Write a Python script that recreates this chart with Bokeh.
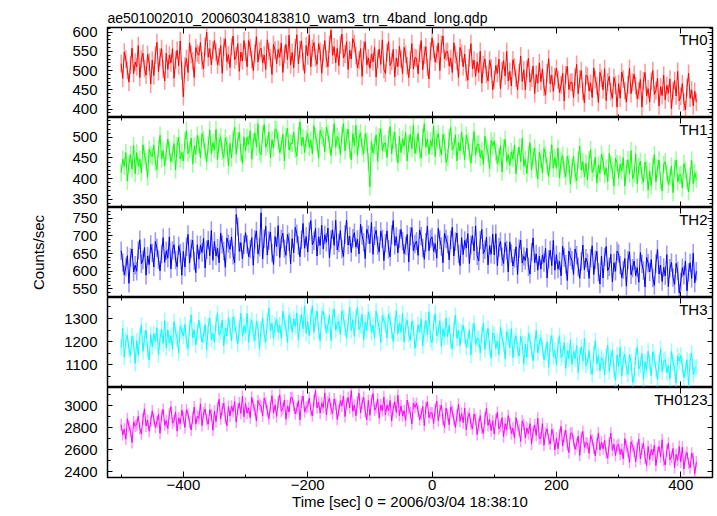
from bokeh.plotting import figure
from bokeh.layouts import column
from bokeh.models import Range1d, LinearAxis, SingleIntervalTicker, Label, CustomLabelingPolicy
from bokeh.embed import file_html
from bokeh.resources import INLINE

# time bins (s), 0 = 2006/03/04 18:38:10, 2.5 s bins from -500 to 425
time_sec = [k * 2.5 for k in range(-200, 171)]

th0 = [518, 480, 548, 530, 500, 470, 515, 558, 492, 522,
       510, 565, 482, 530, 545, 505, 488, 542, 522, 465,
       527, 487, 540, 573, 497, 535, 557, 503, 473, 545,
       503, 540, 520, 557, 480, 527, 553, 513, 577, 500,
       432, 512, 532, 495, 572, 542, 525, 482, 560, 545,
       540, 573, 525, 505, 563, 600, 535, 557, 515, 553,
       578, 548, 515, 535, 565, 493, 561, 583, 523, 541,
       508, 562, 590, 528, 538, 570, 498, 548, 525, 578,
       548, 510, 578, 560, 530, 500, 545, 588, 522, 552,
       558, 520, 540, 503, 580, 550, 533, 490, 568, 553,
       518, 555, 535, 572, 495, 542, 568, 528, 592, 515,
       547, 507, 560, 593, 517, 555, 577, 523, 493, 565,
       538, 593, 510, 558, 573, 533, 516, 570, 550, 493,
       545, 578, 530, 510, 568, 605, 540, 562, 520, 558,
       513, 567, 595, 533, 543, 575, 503, 553, 530, 583,
       570, 540, 507, 527, 557, 485, 553, 575, 515, 533,
       506, 543, 523, 560, 483, 530, 556, 516, 580, 503,
       493, 547, 575, 513, 523, 555, 483, 533, 510, 563,
       530, 492, 560, 542, 512, 482, 527, 570, 504, 534,
       532, 492, 545, 578, 502, 540, 562, 508, 478, 550,
       585, 555, 522, 542, 572, 500, 568, 590, 530, 548,
       550, 512, 532, 495, 572, 542, 525, 482, 560, 545,
       510, 543, 495, 475, 533, 570, 505, 527, 485, 523,
       495, 550, 467, 515, 530, 490, 473, 527, 507, 450,
       476, 513, 493, 530, 453, 500, 526, 486, 550, 473,
       498, 460, 528, 510, 480, 450, 495, 538, 472, 502,
       450, 504, 532, 470, 480, 512, 440, 490, 467, 520,
       471, 504, 456, 436, 494, 531, 466, 488, 446, 484,
       506, 476, 443, 463, 493, 421, 489, 511, 451, 469,
       470, 430, 483, 516, 440, 478, 500, 446, 416, 488,
       485, 447, 467, 430, 507, 477, 460, 417, 495, 480,
       450, 505, 422, 470, 485, 445, 428, 482, 462, 405,
       466, 428, 496, 478, 448, 418, 463, 506, 440, 470,
       490, 460, 427, 447, 477, 405, 473, 495, 435, 453,
       418, 472, 500, 438, 448, 480, 408, 458, 435, 488,
       424, 461, 441, 478, 401, 448, 474, 434, 498, 421,
       433, 466, 418, 398, 456, 493, 428, 450, 408, 446,
       418]

th1 = [414, 447, 430, 463, 394, 436, 458, 423, 480, 412,
       463, 430, 447, 414, 482, 456, 441, 403, 471, 458,
       453, 481, 439, 422, 472, 505, 448, 468, 431, 464,
       496, 469, 441, 458, 485, 421, 480, 500, 447, 463,
       443, 492, 516, 461, 470, 498, 435, 479, 459, 505,
       483, 450, 509, 494, 467, 441, 480, 518, 461, 487,
       470, 519, 446, 488, 501, 466, 450, 499, 481, 431,
       485, 450, 496, 525, 459, 492, 512, 463, 437, 501,
       467, 500, 483, 516, 447, 489, 511, 476, 533, 465,
       458, 507, 531, 476, 485, 513, 450, 494, 474, 520,
       518, 491, 463, 480, 507, 443, 502, 522, 469, 485,
       485, 513, 471, 454, 504, 537, 480, 500, 463, 496,
       509, 476, 493, 460, 528, 502, 487, 449, 517, 504,
       498, 465, 524, 509, 482, 456, 495, 533, 476, 502,
       493, 458, 504, 533, 467, 500, 520, 471, 445, 509,
       480, 529, 456, 498, 511, 476, 460, 509, 491, 441,
       380, 490, 462, 479, 506, 442, 501, 521, 468, 484,
       486, 451, 497, 526, 460, 493, 513, 464, 438, 502,
       463, 496, 479, 512, 443, 485, 507, 472, 529, 461,
       481, 509, 467, 450, 500, 533, 476, 496, 459, 492,
       478, 527, 454, 496, 509, 474, 458, 507, 489, 439,
       451, 500, 524, 469, 478, 506, 443, 487, 467, 513,
       479, 446, 505, 490, 463, 437, 476, 514, 457, 483,
       484, 451, 468, 435, 503, 477, 462, 424, 492, 479,
       491, 464, 436, 453, 480, 416, 475, 495, 442, 458,
       432, 465, 448, 481, 412, 454, 476, 441, 498, 430,
       447, 412, 458, 487, 421, 454, 474, 425, 399, 463,
       447, 414, 473, 458, 431, 405, 444, 482, 425, 451,
       425, 474, 401, 443, 456, 421, 405, 454, 436, 386,
       426, 454, 412, 395, 445, 478, 421, 441, 404, 437,
       397, 446, 470, 415, 424, 452, 389, 433, 413, 459,
       442, 409, 426, 393, 461, 435, 420, 382, 450, 437,
       402, 435, 418, 451, 382, 424, 446, 411, 468, 400,
       411, 460, 387, 429, 442, 407, 391, 440, 422, 372,
       418, 383, 429, 458, 392, 425, 445, 396, 370, 434,
       441, 414, 386, 403, 430, 366, 425, 445, 392, 408,
       410, 377, 436, 421, 394, 368, 407, 445, 388, 414,
       398]

th2 = [658, 625, 590, 612, 644, 566, 639, 663, 598, 617,
       600, 659, 689, 621, 632, 667, 589, 643, 619, 676,
       652, 612, 684, 666, 633, 601, 649, 695, 625, 658,
       637, 697, 607, 659, 675, 632, 613, 672, 651, 589,
       656, 612, 669, 704, 623, 664, 688, 629, 596, 675,
       634, 674, 653, 693, 609, 661, 688, 644, 715, 631,
       684, 643, 665, 624, 708, 676, 657, 611, 694, 678,
       662, 697, 645, 624, 760, 726, 656, 681, 635, 675,
       709, 676, 641, 663, 695, 617, 690, 714, 649, 668,
       765, 635, 692, 727, 646, 687, 711, 652, 619, 698,
       669, 729, 639, 691, 707, 664, 645, 704, 683, 621,
       692, 652, 724, 706, 673, 641, 689, 735, 665, 698,
       654, 713, 743, 675, 686, 721, 643, 697, 673, 730,
       663, 703, 682, 722, 638, 690, 717, 673, 744, 660,
       680, 715, 663, 642, 704, 744, 674, 699, 653, 693,
       709, 668, 690, 649, 733, 701, 682, 636, 719, 703,
       678, 738, 648, 700, 716, 673, 654, 713, 692, 630,
       679, 714, 662, 641, 703, 743, 673, 698, 652, 692,
       718, 685, 650, 672, 704, 626, 699, 723, 658, 677,
       685, 645, 717, 699, 666, 634, 682, 728, 658, 691,
       697, 656, 678, 637, 721, 689, 670, 624, 707, 691,
       676, 632, 689, 724, 643, 684, 708, 649, 616, 695,
       647, 687, 666, 706, 622, 674, 701, 657, 728, 644,
       629, 688, 718, 650, 661, 696, 618, 672, 648, 705,
       646, 706, 616, 668, 684, 641, 622, 681, 660, 598,
       683, 650, 615, 637, 669, 591, 664, 688, 623, 642,
       630, 665, 613, 592, 654, 694, 624, 649, 603, 643,
       606, 646, 625, 665, 581, 633, 660, 616, 687, 603,
       647, 606, 628, 587, 671, 639, 620, 574, 657, 641,
       631, 591, 663, 645, 612, 580, 628, 674, 604, 637,
       624, 580, 637, 672, 591, 632, 656, 597, 564, 643,
       581, 640, 670, 602, 613, 648, 570, 624, 600, 657,
       650, 617, 582, 604, 636, 558, 631, 655, 590, 609,
       629, 588, 610, 569, 653, 621, 602, 556, 639, 623,
       598, 633, 581, 560, 622, 662, 592, 617, 571, 611,
       587, 647, 557, 609, 625, 582, 563, 622, 601, 539,
       570, 610, 589, 629, 545, 597, 624, 580, 651, 567,
       600]

th3 = [1175, 1258, 1133, 1205, 1228, 1167, 1141, 1224, 1194, 1106,
       1204, 1143, 1223, 1272, 1158, 1215, 1249, 1166, 1120, 1230,
       1177, 1234, 1203, 1260, 1143, 1215, 1253, 1192, 1291, 1173,
       1252, 1195, 1226, 1169, 1287, 1241, 1214, 1150, 1268, 1245,
       1224, 1274, 1202, 1171, 1259, 1316, 1217, 1251, 1186, 1243,
       1293, 1248, 1198, 1229, 1274, 1164, 1267, 1301, 1210, 1236,
       1198, 1281, 1323, 1228, 1243, 1293, 1182, 1258, 1224, 1304,
       1261, 1204, 1307, 1280, 1235, 1189, 1258, 1322, 1223, 1269,
       1239, 1322, 1197, 1269, 1292, 1231, 1205, 1288, 1258, 1170,
       1253, 1303, 1231, 1200, 1288, 1345, 1246, 1280, 1215, 1272,
       1298, 1241, 1272, 1215, 1333, 1287, 1260, 1196, 1314, 1291,
       1241, 1298, 1267, 1324, 1207, 1279, 1317, 1256, 1355, 1237,
       1287, 1226, 1306, 1355, 1241, 1298, 1332, 1249, 1203, 1313,
       1333, 1288, 1238, 1269, 1314, 1204, 1307, 1341, 1250, 1276,
       1287, 1230, 1333, 1306, 1261, 1215, 1284, 1348, 1249, 1295,
       1223, 1306, 1348, 1253, 1268, 1318, 1207, 1283, 1249, 1329,
       1298, 1241, 1272, 1215, 1333, 1287, 1260, 1196, 1314, 1291,
       1273, 1216, 1319, 1292, 1247, 1201, 1270, 1334, 1235, 1281,
       1240, 1323, 1198, 1270, 1293, 1232, 1206, 1289, 1259, 1171,
       1216, 1273, 1242, 1299, 1182, 1254, 1292, 1231, 1330, 1212,
       1196, 1279, 1321, 1226, 1241, 1291, 1180, 1256, 1222, 1302,
       1222, 1272, 1200, 1169, 1257, 1314, 1215, 1249, 1184, 1241,
       1271, 1226, 1176, 1207, 1252, 1142, 1245, 1279, 1188, 1214,
       1212, 1151, 1231, 1280, 1166, 1223, 1257, 1174, 1128, 1238,
       1228, 1171, 1202, 1145, 1263, 1217, 1190, 1126, 1244, 1221,
       1173, 1256, 1131, 1203, 1226, 1165, 1139, 1222, 1192, 1104,
       1189, 1132, 1235, 1208, 1163, 1117, 1186, 1250, 1151, 1197,
       1218, 1173, 1123, 1154, 1199, 1089, 1192, 1226, 1135, 1161,
       1101, 1184, 1226, 1131, 1146, 1196, 1085, 1161, 1127, 1207,
       1101, 1158, 1127, 1184, 1067, 1139, 1177, 1116, 1215, 1097,
       1112, 1162, 1090, 1059, 1147, 1204, 1105, 1139, 1074, 1131,
       1117, 1056, 1136, 1185, 1071, 1128, 1162, 1079, 1033, 1143,
       1093, 1176, 1051, 1123, 1146, 1085, 1059, 1142, 1112, 1024,
       1053, 1136, 1178, 1083, 1098, 1148, 1037, 1113, 1079, 1159,
       1109, 1052, 1155, 1128, 1083, 1037, 1106, 1170, 1071, 1117,
       1123, 1066, 1097, 1040, 1158, 1112, 1085, 1021, 1139, 1116,
       1141, 1096, 1046, 1077, 1122, 1012, 1115, 1149, 1058, 1084,
       1090]

th0123 = [2828, 2738, 2786, 2696, 2882, 2810, 2768, 2666, 2852, 2816,
          2828, 2906, 2792, 2744, 2882, 2972, 2816, 2870, 2768, 2858,
          2954, 2882, 2804, 2852, 2924, 2750, 2912, 2966, 2822, 2864,
          2794, 2926, 2992, 2842, 2866, 2944, 2770, 2890, 2836, 2962,
          2893, 2803, 2965, 2923, 2851, 2779, 2887, 2989, 2833, 2905,
          2886, 3018, 2820, 2934, 2970, 2874, 2832, 2964, 2916, 2778,
          2951, 2855, 2981, 3059, 2879, 2969, 3023, 2891, 2819, 2993,
          2906, 2996, 2948, 3038, 2852, 2966, 3026, 2930, 3086, 2900,
          3023, 2933, 2981, 2891, 3077, 3005, 2963, 2861, 3047, 3011,
          2996, 2906, 3068, 3026, 2954, 2882, 2990, 3092, 2936, 3008,
          2902, 3034, 3100, 2950, 2974, 3052, 2878, 2998, 2944, 3070,
          3076, 3004, 2926, 2974, 3046, 2872, 3034, 3088, 2944, 2986,
          2993, 3071, 2957, 2909, 3047, 3137, 2981, 3035, 2933, 3023,
          2984, 3116, 2918, 3032, 3068, 2972, 2930, 3062, 3014, 2876,
          2956, 3046, 2998, 3088, 2902, 3016, 3076, 2980, 3136, 2950,
          3006, 2910, 3036, 3114, 2934, 3024, 3078, 2946, 2874, 3048,
          2912, 3044, 3110, 2960, 2984, 3062, 2888, 3008, 2954, 3080,
          2916, 3006, 2958, 3048, 2862, 2976, 3036, 2940, 3096, 2910,
          2998, 2908, 2956, 2866, 3052, 2980, 2938, 2836, 3022, 2986,
          3024, 2952, 2874, 2922, 2994, 2820, 2982, 3036, 2892, 2934,
          2936, 2840, 2966, 3044, 2864, 2954, 3008, 2876, 2804, 2978,
          2918, 2828, 2990, 2948, 2876, 2804, 2912, 3014, 2858, 2930,
          2846, 2978, 2780, 2894, 2930, 2834, 2792, 2924, 2876, 2738,
          2833, 2911, 2797, 2749, 2887, 2977, 2821, 2875, 2773, 2863,
          2742, 2874, 2940, 2790, 2814, 2892, 2718, 2838, 2784, 2910,
          2838, 2748, 2796, 2706, 2892, 2820, 2778, 2676, 2862, 2826,
          2706, 2796, 2748, 2838, 2652, 2766, 2826, 2730, 2886, 2700,
          2706, 2838, 2640, 2754, 2790, 2694, 2652, 2784, 2736, 2598,
          2706, 2610, 2736, 2814, 2634, 2724, 2778, 2646, 2574, 2748,
          2754, 2682, 2604, 2652, 2724, 2550, 2712, 2766, 2622, 2664,
          2658, 2568, 2730, 2688, 2616, 2544, 2652, 2754, 2598, 2670,
          2608, 2686, 2572, 2524, 2662, 2752, 2596, 2650, 2548, 2638,
          2648, 2558, 2606, 2516, 2702, 2630, 2588, 2486, 2672, 2636,
          2588, 2492, 2618, 2696, 2516, 2606, 2660, 2528, 2456, 2630,
          2511, 2601, 2553, 2643, 2457, 2571, 2631, 2535, 2691, 2505,
          2462, 2594, 2660, 2510, 2534, 2612, 2438, 2558, 2504, 2630,
          2491, 2623, 2425, 2539, 2575, 2479, 2437, 2569, 2521, 2383,
          2490]

# typical 1-sigma error per bin (counts/sec)
err_th0 = 23
err_th1 = 21
err_th2 = 26
err_th3 = 35
err_th0123 = 54

names = ["TH0", "TH1", "TH2", "TH3", "TH0123"]
series = [th0, th1, th2, th3, th0123]
errors = [err_th0, err_th1, err_th2, err_th3, err_th0123]
colors = ["#ff0000", "#00ff00", "#0000ff", "#00ffff", "#ff00ff"]
y_ranges = [(378, 612), (330, 548), (526, 780), (1002, 1391), (2348, 3166)]
y_steps = [(50, 5), (50, 5), (50, 5), (100, 2), (200, 2)]

title_text = "ae501002010_20060304183810_wam3_trn_4band_long.qdp"
x_label = "Time [sec] 0 = 2006/03/04 18:38:10"
y_label = "Counts/sec"

FONT = "Liberation Sans"
x_range = Range1d(-522, 451)

HIDE = "try { for (const i of indices) { indices.unset(i) } } catch (e) {} return indices"


def style_axis(ax, show_labels, tin, tmin):
    ax.axis_line_color = None
    ax.major_tick_in = tin
    ax.major_tick_out = 0
    ax.minor_tick_in = tmin
    ax.minor_tick_out = 0
    ax.major_tick_line_color = "black"
    ax.minor_tick_line_color = "black"
    ax.major_tick_line_width = 1
    ax.minor_tick_line_width = 1
    if show_labels:
        ax.major_label_text_font = FONT
        ax.major_label_text_font_size = "15px"
        ax.major_label_text_color = "black"
    else:
        ax.major_label_policy = CustomLabelingPolicy(code=HIDE)
        ax.major_label_text_font_size = "0px"
        ax.major_label_standoff = 0


figs = []
for i in range(5):
    first = i == 0
    last = i == 4
    p = figure(frame_width=605, frame_height=90, x_range=x_range,
               y_range=Range1d(*y_ranges[i]), output_backend="svg",
               toolbar_location=None, tools="",
               min_border_left=107, min_border_right=3,
               min_border_top=27 if first else 0,
               min_border_bottom=39 if last else 0)
    p.grid.visible = False
    p.background_fill_color = "white"
    p.border_fill_color = "white"
    p.outline_line_color = "black"
    p.outline_line_width = 1.5

    yint, yminor = y_steps[i]
    yl = p.yaxis[0]
    yl.ticker = SingleIntervalTicker(interval=yint, num_minor_ticks=yminor)
    style_axis(yl, True, 5, 3)
    yl.major_label_standoff = 10
    yr = LinearAxis(ticker=SingleIntervalTicker(interval=yint, num_minor_ticks=yminor))
    style_axis(yr, False, 5, 3)
    p.add_layout(yr, "right")

    xb = p.xaxis[0]
    xb.ticker = SingleIntervalTicker(interval=200, num_minor_ticks=2)
    style_axis(xb, last, 6, 3)
    xa = LinearAxis(ticker=SingleIntervalTicker(interval=200, num_minor_ticks=2))
    style_axis(xa, False, 6, 3)
    p.add_layout(xa, "above")

    vals = series[i]
    err = errors[i]
    lo = [v - err for v in vals]
    hi = [v + err for v in vals]
    p.vbar(x=time_sec, bottom=lo, top=hi, width=2.5, fill_color=colors[i],
           fill_alpha=0.4, line_color=None)
    p.line(time_sec, vals, line_color=colors[i], line_width=1)

    p.add_layout(Label(x=600, y=87, x_units="screen", y_units="screen",
                       text=names[i], text_align="right", text_baseline="top",
                       text_font=FONT, text_font_size="15px", text_color="black"))

    if first:
        p.title.text = title_text
        p.title.align = "left"
        p.title.text_font = FONT
        p.title.text_font_size = "14px"
        p.title.text_font_style = "normal"
        p.title.text_color = "black"
        p.title.offset = 0
        p.title.standoff = 4
    if i == 2:
        yl.axis_label = y_label
        yl.axis_label_text_font = FONT
        yl.axis_label_text_font_size = "15px"
        yl.axis_label_text_font_style = "normal"
        yl.axis_label_text_color = "black"
        yl.axis_label_standoff = 22
    if last:
        xb.major_label_standoff = 2
        xb.axis_label = x_label
        xb.axis_label_text_font = FONT
        xb.axis_label_text_font_size = "15px"
        xb.axis_label_text_font_style = "normal"
        xb.axis_label_text_color = "black"
        xb.axis_label_standoff = 0
    figs.append(p)

layout = column(*figs, spacing=0)
open("out.html", "w").write(file_html(layout, INLINE))
